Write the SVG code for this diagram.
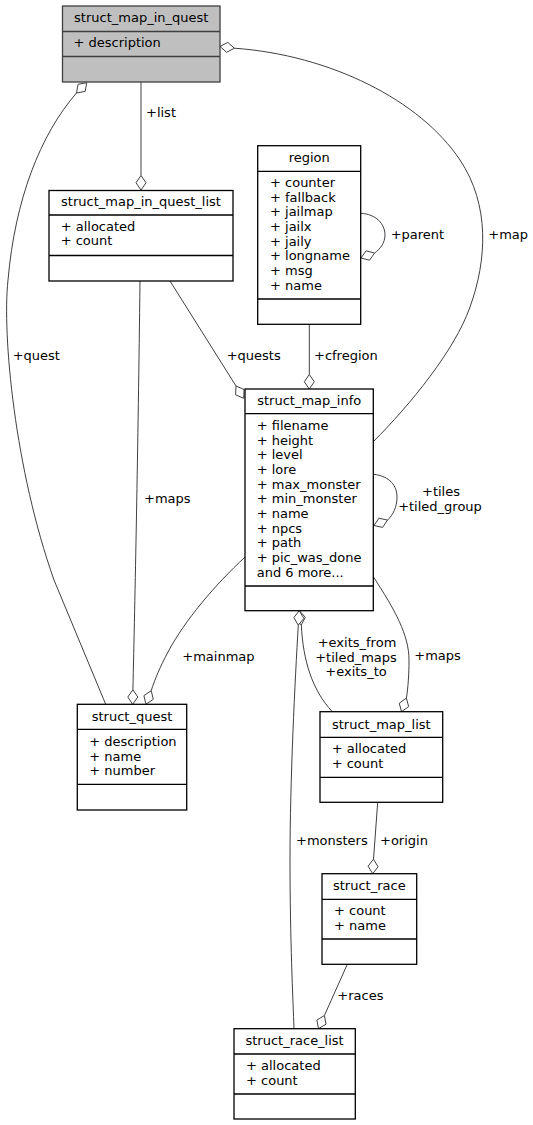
<svg xmlns="http://www.w3.org/2000/svg" width="533" height="1125" viewBox="0 0 533 1125">
<style>
text{font-family:"DejaVu Sans","Liberation Sans",sans-serif;font-size:13px;fill:#000}
.t{text-anchor:middle}
.m{text-anchor:middle}
.box{fill:#fff;stroke:#000;stroke-width:1.3}
.root{fill:#bfbfbf;stroke:#404040;stroke-width:1.3}
.sep{stroke:#000;stroke-width:1.3}
.rsep{stroke:#404040;stroke-width:1.3}
.e{fill:none;stroke:#404040;stroke-width:1}
.d{fill:#fff;stroke:#404040;stroke-width:1}
</style>
<rect width="533" height="1125" fill="#fff"/>
<g id="connectors">
  <!-- +list -->
  <path class="e" d="M141,82 L141,175.5"/>
  <polygon class="d" points="141,175.5 146,182.75 141,190 136,182.75"/>
  <text x="146" y="117">+list</text>
  <!-- +map -->
  <path class="e" d="M234.4,48.2 C330,55 420,100 460,160 C490,205 487,260 470,307 C455,350 410,405 373.3,441.7"/>
  <polygon class="d" points="234.4,48.2 227.8,42.4 220,46.5 226.6,52.3"/>
  <text x="488.3" y="239">+map</text>
  <!-- +quest -->
  <path class="e" d="M76.5,93 C40,135 15,200 8,280 C2,335 15,470 54,580 L105.7,704.3"/>
  <polygon class="d" points="76.5,93 78,84.3 86.7,82.7 85.2,91.4"/>
  <text x="12.7" y="360">+quest</text>
  <!-- +parent -->
  <path class="e" d="M360.7,213.3 C376,214 385,224 385,235 C385,243 380,249 374.6,253.1"/>
  <polygon class="d" points="374.6,253.1 366.1,250.8 361,258 369.5,260.2"/>
  <text x="390.7" y="239">+parent</text>
  <!-- +cfregion -->
  <path class="e" d="M309.3,324.3 L309.3,374.5"/>
  <polygon class="d" points="309.3,374.5 314.3,381.75 309.3,389 304.3,381.75"/>
  <text x="314" y="360">+cfregion</text>
  <!-- +quests -->
  <path class="e" d="M170,281 L236,386"/>
  <polygon class="d" points="236,386 244.1,389.5 243.7,398.3 235.6,394.8"/>
  <text x="226.7" y="360">+quests</text>
  <!-- +maps (list to quest) -->
  <path class="e" d="M140,281 C138,450 135,600 132.9,689.8"/>
  <polygon class="d" points="132.9,689.8 137.8,697 132.7,704.3 127.8,697"/>
  <text x="144" y="503">+maps</text>
  <!-- +tiles +tiled_group -->
  <path class="e" d="M373.3,474.3 C390,476 397,486 397,497 C397,507 393,515 387.5,520.1"/>
  <polygon class="d" points="387.5,520.1 378.9,518.2 374,525.5 382.6,527.4"/>
  <text class="m" x="441" y="496">+tiles</text>
  <text class="m" x="440" y="511">+tiled_group</text>
  <!-- +mainmap -->
  <path class="e" d="M245,557 C215,585 185,620 168,652 C160,667 155,679 151.2,690.7"/>
  <polygon class="d" points="151.2,690.7 153.3,699.3 146,704.3 143.9,695.7"/>
  <text x="182.3" y="661">+mainmap</text>
  <!-- +exits_from +tiled_maps +exits_to -->
  <path class="e" d="M301.3,625.1 C303,660 312,690 332.3,711.7"/>
  <polygon class="d" points="301.3,625.1 305.25,617.2 299.3,610.7 295.35,618.6"/>
  <text class="m" x="357" y="647">+exits_from</text>
  <text class="m" x="356" y="661.5">+tiled_maps</text>
  <text class="m" x="356" y="676">+exits_to</text>
  <!-- +monsters -->
  <path class="e" d="M298.3,625.2 C295,680 290,780 290,860 C290,940 293,1000 294,1028.7"/>
  <polygon class="d" points="298.3,625.2 303.8,618.3 299.3,610.7 293.8,617.6"/>
  <text x="296" y="845">+monsters</text>
  <!-- +maps (info to map_list) -->
  <path class="e" d="M373.3,576.7 C395,610 409,635 409,660 C409,675 408,688 406.4,698.1"/>
  <polygon class="d" points="406.4,698.1 408.65,706.6 401.5,711.7 399.25,703.2"/>
  <text x="414.3" y="660">+maps</text>
  <!-- +origin -->
  <path class="e" d="M377.7,802.3 L373.5,859.2"/>
  <polygon class="d" points="373.5,859.2 378.1,866.8 372.7,873.7 368.1,866.2"/>
  <text x="380" y="845">+origin</text>
  <!-- +races -->
  <path class="e" d="M347.3,964.3 L324.4,1015.5"/>
  <polygon class="d" points="324.4,1015.5 326.1,1024.15 318.5,1028.7 316.9,1020.05"/>
  <text x="337.3" y="1000">+races</text>
</g>
<g id="struct_map_in_quest">
  <rect class="root" x="62.5" y="6" width="157.5" height="76"/>
  <line class="rsep" x1="62.5" y1="31.5" x2="220" y2="31.5"/>
  <line class="rsep" x1="62.5" y1="56.5" x2="220" y2="56.5"/>
  <text class="t" x="141.25" y="22">struct_map_in_quest</text>
  <text x="73.5" y="47">+ description</text>
</g>
<g id="struct_map_in_quest_list">
  <rect class="box" x="49" y="190.5" width="184" height="90.5"/>
  <line class="sep" x1="49" y1="215" x2="233" y2="215"/>
  <line class="sep" x1="49" y1="255.5" x2="233" y2="255.5"/>
  <text class="t" x="141" y="206">struct_map_in_quest_list</text>
  <text x="60.7" y="230.5">+ allocated</text>
  <text x="60.7" y="245.2">+ count</text>
</g>
<g id="region">
  <rect class="box" x="257.7" y="145.7" width="103" height="178.6"/>
  <line class="sep" x1="257.7" y1="171.3" x2="360.7" y2="171.3"/>
  <line class="sep" x1="257.7" y1="299" x2="360.7" y2="299"/>
  <text class="t" x="309.2" y="162">region</text>
  <text x="270" y="187">+ counter</text>
  <text x="270" y="201.7">+ fallback</text>
  <text x="270" y="216.3">+ jailmap</text>
  <text x="270" y="231">+ jailx</text>
  <text x="270" y="245.7">+ jaily</text>
  <text x="270" y="260.3">+ longname</text>
  <text x="270" y="275">+ msg</text>
  <text x="270" y="289.7">+ name</text>
</g>
<g id="struct_map_info">
  <rect class="box" x="245" y="389" width="128.3" height="221.7"/>
  <line class="sep" x1="245" y1="413.7" x2="373.3" y2="413.7"/>
  <line class="sep" x1="245" y1="586" x2="373.3" y2="586"/>
  <text class="t" x="309.2" y="405">struct_map_info</text>
  <text x="256.7" y="430">+ filename</text>
  <text x="256.7" y="444.7">+ height</text>
  <text x="256.7" y="459.3">+ level</text>
  <text x="256.7" y="474">+ lore</text>
  <text x="256.7" y="488.7">+ max_monster</text>
  <text x="256.7" y="503.3">+ min_monster</text>
  <text x="256.7" y="518">+ name</text>
  <text x="256.7" y="532.7">+ npcs</text>
  <text x="256.7" y="547.3">+ path</text>
  <text x="256.7" y="562">+ pic_was_done</text>
  <text x="256.7" y="576.7">and 6 more...</text>
</g>
<g id="struct_quest">
  <rect class="box" x="77.3" y="704.3" width="109.4" height="105.7"/>
  <line class="sep" x1="77.3" y1="729.3" x2="186.7" y2="729.3"/>
  <line class="sep" x1="77.3" y1="784.3" x2="186.7" y2="784.3"/>
  <text class="t" x="132" y="720.5">struct_quest</text>
  <text x="89.3" y="746">+ description</text>
  <text x="89.3" y="760.7">+ name</text>
  <text x="89.3" y="775.3">+ number</text>
</g>
<g id="struct_map_list">
  <rect class="box" x="320" y="711.7" width="122.7" height="90.6"/>
  <line class="sep" x1="320" y1="737.3" x2="442.7" y2="737.3"/>
  <line class="sep" x1="320" y1="777.3" x2="442.7" y2="777.3"/>
  <text class="t" x="381.3" y="728.5">struct_map_list</text>
  <text x="331.7" y="753">+ allocated</text>
  <text x="331.7" y="767.7">+ count</text>
</g>
<g id="struct_race">
  <rect class="box" x="322" y="873.7" width="94.7" height="90.6"/>
  <line class="sep" x1="322" y1="899.3" x2="416.7" y2="899.3"/>
  <line class="sep" x1="322" y1="939" x2="416.7" y2="939"/>
  <text class="t" x="369.3" y="890">struct_race</text>
  <text x="334" y="915">+ count</text>
  <text x="334" y="929.7">+ name</text>
</g>
<g id="struct_race_list">
  <rect class="box" x="234" y="1028.7" width="121.3" height="90.3"/>
  <line class="sep" x1="234" y1="1054" x2="355.3" y2="1054"/>
  <line class="sep" x1="234" y1="1094" x2="355.3" y2="1094"/>
  <text class="t" x="294.6" y="1045">struct_race_list</text>
  <text x="246" y="1070">+ allocated</text>
  <text x="246" y="1084.7">+ count</text>
</g>
</svg>
